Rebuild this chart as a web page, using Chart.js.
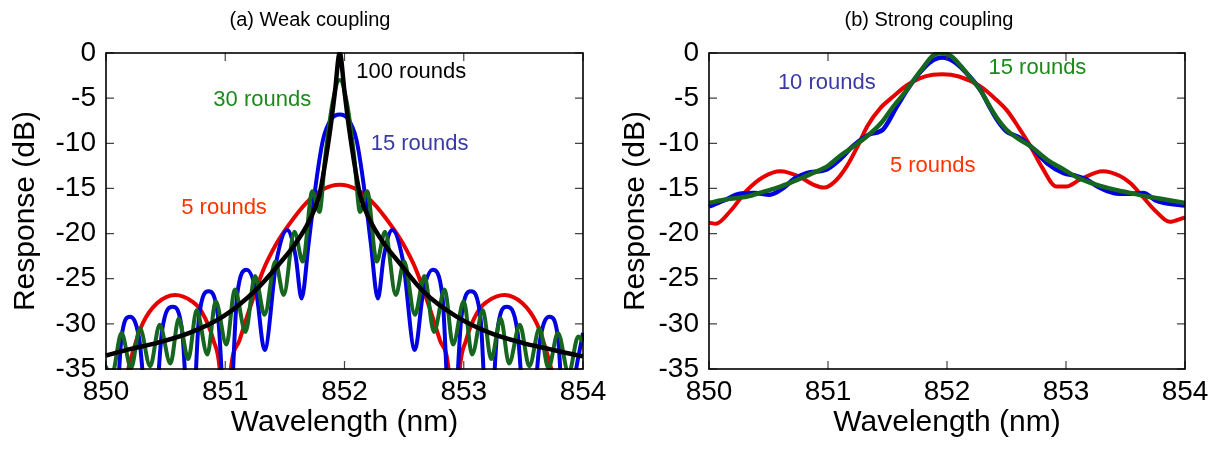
<!DOCTYPE html>
<html>
<head>
<meta charset="utf-8">
<script src="https://cdn.jsdelivr.net/npm/chart.js@4.4.0/dist/chart.umd.min.js"></script>
<style>
html, body { margin: 0; padding: 0; background: #fff; overflow: hidden; width: 1224px; height: 450px; }
.panel { position: absolute; top: 0; height: 450px; }
#wrap-a { left: 0; width: 620px; }
#wrap-b { left: 612px; width: 634px; }
</style>
</head>
<body>
<div class="panel" id="wrap-a"><canvas id="chart-a" width="620" height="450"></canvas></div>
<div class="panel" id="wrap-b"><canvas id="chart-b" width="634" height="450"></canvas></div>
<script>
// ---- (a) weak coupling ----
const redA_x = [849.92, 850.0, 850.08, 850.17, 850.23, 850.31, 850.43, 850.58, 850.72, 850.8, 850.9, 850.96, 851.0, 851.04, 851.12, 851.21, 851.32, 851.43, 851.54, 851.68, 851.82, 851.96,
    852.1, 852.24, 852.38, 852.49, 852.6, 852.71, 852.8, 852.88, 852.92, 852.96, 853.02, 853.12, 853.2, 853.34, 853.49, 853.61, 853.69, 853.75, 853.84, 853.92, 854.0];
const redA_y = [-38, -40, -44, -36, -32.9, -29.9, -27.7, -26.8, -27.5, -28.6, -31.8, -36, -48, -36, -31.8, -28.1, -24.0, -21.1, -18.9, -16.6, -15.1, -14.6,
    -15.1, -16.6, -18.9, -21.1, -24.0, -28.1, -31.8, -36, -48, -36, -31.8, -28.6, -27.5, -26.8, -27.7, -29.9, -32.9, -36, -44, -40, -38];

const blueA_x = [849.92, 850.0, 850.06, 850.13, 850.2, 850.28, 850.38, 850.47, 850.56, 850.64, 850.71, 850.78, 850.86, 850.94, 851.02, 851.1, 851.18, 851.26, 851.33, 851.43, 851.52, 851.59, 851.64, 851.7, 851.76, 851.82, 851.89, 851.96,
    852.03, 852.1, 852.16, 852.22, 852.28, 852.33, 852.4, 852.49, 852.59, 852.66, 852.74, 852.82, 852.9, 852.98, 853.06, 853.14, 853.21, 853.28, 853.36, 853.45, 853.54, 853.64, 853.72, 853.79, 853.86, 853.92, 854.0];
const blueA_y = [-31, -37, -45, -31.5, -29.2, -31.8, -45, -30.8, -28.1, -31, -45, -29.3, -26.4, -29.3, -45, -26.8, -24.0, -26.5, -32.9, -23.0, -19.6, -22.5, -27.2, -21, -14.5, -9.6, -7.3, -6.8,
    -7.3, -9.6, -14.5, -21, -27.2, -22.5, -19.6, -23.0, -32.9, -26.5, -24.0, -26.8, -45, -29.3, -26.4, -29.3, -45, -31, -28.1, -30.8, -45, -31.8, -29.2, -31.5, -45, -37, -31];

const greenA_x = [849.92, 850.0, 850.05, 850.13, 850.21, 850.285, 850.37, 850.45, 850.54, 850.61, 850.69, 850.76, 850.85, 850.92, 851.01, 851.08, 851.17, 851.25, 851.33, 851.42, 851.49, 851.58, 851.65, 851.73, 851.79, 851.84, 851.9, 851.96,
    852.02, 852.08, 852.13, 852.19, 852.27, 852.34, 852.43, 852.5, 852.59, 852.67, 852.75, 852.84, 852.91, 853.0, 853.07, 853.16, 853.23, 853.31, 853.38, 853.47, 853.55, 853.635, 853.71, 853.79, 853.88, 853.96, 854.0];
const greenA_y = [-32, -34.8, -35.6, -31.0, -34.9, -30.5, -34.7, -30.1, -34.4, -29.4, -33.9, -28.5, -33.4, -27.5, -32.3, -26.2, -30.9, -24.7, -29.0, -23.1, -26.8, -19.8, -23.1, -15.3, -17.6, -11.3, -5.5, -3.0,
    -5.5, -11.3, -17.6, -15.3, -23.1, -19.8, -26.8, -23.1, -29.0, -24.7, -30.9, -26.2, -32.3, -27.5, -33.4, -28.5, -33.9, -29.4, -34.4, -30.1, -34.7, -30.5, -34.9, -31.0, -35.5, -31.4, -32];

const blackA_x = [850.0, 850.2, 850.43, 850.7, 850.98, 851.26, 851.45, 851.6, 851.7, 851.79, 851.84, 851.88, 851.92, 851.96,
    852.0, 852.04, 852.08, 852.13, 852.22, 852.32, 852.47, 852.66, 852.94, 853.22, 853.49, 853.72, 853.92, 854.0];
const blackA_y = [-33.5, -32.8, -32.1, -31.0, -29.2, -26.2, -23.4, -20.9, -18.7, -15.7, -12.0, -8.5, -4.3, 0,
    -4.3, -8.5, -12.0, -15.7, -18.7, -20.9, -23.4, -26.4, -29.2, -31.0, -32.1, -32.8, -33.4, -33.6];

// ---- (b) strong coupling ----
const redB_x = [850.0, 850.06, 850.18, 850.32, 850.46, 850.6, 850.76, 850.88, 850.97, 851.06, 851.16, 851.25, 851.33, 851.44, 851.55, 851.66, 851.77, 851.88, 851.96,
    852.1, 852.28, 852.4, 852.5, 852.6, 852.7, 852.8, 852.92, 853.0, 853.12, 853.31, 853.45, 853.54, 853.65, 853.76, 853.87, 854.0];
const redB_y = [-18.8, -18.9, -17.5, -15.2, -13.7, -13.1, -13.7, -14.6, -14.9, -14.2, -12.5, -10.3, -8.1, -6.1, -4.8, -3.6, -2.8, -2.4, -2.35,
    -2.6, -3.7, -5.0, -6.3, -8.2, -10.3, -12.7, -14.8, -14.8, -14.0, -13.1, -13.6, -14.4, -16.0, -17.6, -18.7, -18.2];

const blueB_x = [850.0, 850.15, 850.25, 850.38, 850.51, 850.62, 850.72, 850.82, 850.99, 851.1, 851.21, 851.35, 851.46, 851.58, 851.68, 851.77, 851.86, 851.96,
    852.05, 852.14, 852.28, 852.35, 852.42, 852.5, 852.6, 852.7, 852.84, 852.98, 853.08, 853.17, 853.28, 853.4, 853.52, 853.65, 853.75, 853.82, 854.0];
const blueB_y = [-17.0, -16.2, -15.6, -15.5, -15.7, -15.0, -13.9, -13.3, -12.9, -11.8, -10.3, -9.0, -8.5, -5.9, -3.8, -2.2, -1.0, -0.5,
    -0.9, -1.9, -4.1, -5.8, -7.4, -8.7, -9.3, -10.3, -12.2, -13.3, -13.6, -14.0, -14.9, -15.5, -15.6, -15.5, -16.3, -16.6, -16.9];

const greenB_x = [850.0, 850.15, 850.32, 850.45, 850.6, 850.75, 850.87, 851.0, 851.1, 851.22, 851.33, 851.45, 851.55, 851.65, 851.72, 851.8, 851.88, 851.96,
    852.04, 852.12, 852.2, 852.28, 852.35, 852.42, 852.5, 852.6, 852.7, 852.84, 852.98, 853.1, 853.26, 853.4, 853.54, 853.68, 853.82, 854.0];
const greenB_y = [-16.6, -16.2, -15.9, -15.4, -14.8, -14.0, -13.3, -12.5, -11.4, -10.3, -9.2, -7.7, -5.9, -4.3, -3.0, -1.6, -0.3, 0,
    -0.4, -1.5, -2.8, -4.1, -5.7, -7.2, -8.5, -9.5, -10.3, -11.8, -12.9, -13.8, -14.6, -15.1, -15.5, -15.9, -16.2, -16.6];

// curve labels (text, wavelength, dB)
const labelsA_text = ['100 rounds', '30 rounds', '15 rounds', '5 rounds'];
const labelsA_x = [852.56, 851.31, 852.63, 850.99];
const labelsA_y = [-2.1, -5.2, -10.1, -17.2];
const labelsB_text = ['10 rounds', '15 rounds', '5 rounds'];
const labelsB_x = [850.99, 852.76, 851.88];
const labelsB_y = [-3.3, -1.7, -12.5];

const RED = '#e60000', BLUE = '#0000e0', GREEN = '#16661f', BLACK = '#000000';
const RED_TXT = '#ff3300', BLUE_TXT = '#3a3aa6', GREEN_TXT = '#1a8a1a';
const FONT = '"Liberation Sans", Arial, sans-serif';

Chart.defaults.font.family = FONT;
Chart.defaults.color = '#000';

function toPoints(xs, ys) {
    return xs.map(function (v, i) { return { x: v, y: ys[i] }; });
}

function lineSet(xs, ys, color, width) {
    return {
        data: toPoints(xs, ys),
        borderColor: color,
        borderWidth: width,
        pointRadius: 0,
        fill: false,
        cubicInterpolationMode: 'monotone',
        clip: 1
    };
}

// frame, inward ticks, panel title and curve labels
const boxPlugin = {
    id: 'boxPlugin',
    afterDatasetsDraw(chart, args, opts) {
        const ctx = chart.ctx;
        const a = chart.chartArea;
        const xs = chart.scales.x, ys = chart.scales.y;
        const len = 8;
        ctx.save();
        ctx.strokeStyle = '#444';
        ctx.lineWidth = 1.2;
        ctx.beginPath();
        xs.ticks.forEach(function (t) {
            const px = xs.getPixelForValue(t.value);
            ctx.moveTo(px, a.bottom); ctx.lineTo(px, a.bottom - len);
            ctx.moveTo(px, a.top); ctx.lineTo(px, a.top + len);
        });
        ys.ticks.forEach(function (t) {
            const py = ys.getPixelForValue(t.value);
            ctx.moveTo(a.left, py); ctx.lineTo(a.left + len, py);
            ctx.moveTo(a.right, py); ctx.lineTo(a.right - len, py);
        });
        ctx.stroke();
        ctx.strokeStyle = '#000';
        ctx.lineWidth = 1.6;
        ctx.strokeRect(a.left, a.top, a.right - a.left, a.bottom - a.top);

        ctx.textAlign = 'center';
        ctx.textBaseline = 'middle';
        ctx.fillStyle = '#000';
        ctx.font = '20px ' + FONT;
        ctx.fillText(opts.title, opts.titleX, 20);

        ctx.font = '22px ' + FONT;
        opts.text.forEach(function (txt, i) {
            ctx.fillStyle = opts.colors[i];
            ctx.fillText(txt, xs.getPixelForValue(opts.xs[i]), ys.getPixelForValue(opts.ys[i]));
        });
        ctx.restore();
    }
};

function makeOptions(yWidth, yTitlePad, rightPad, labels) {
    return {
        responsive: false,
        animation: false,
        layout: { padding: { left: 0, right: rightPad, top: 53, bottom: 0 } },
        scales: {
            x: {
                type: 'linear',
                min: 850,
                max: 854,
                ticks: { stepSize: 1, padding: 6, maxRotation: 0, font: { size: 28 } },
                grid: { display: false, drawTicks: false },
                border: { display: false },
                title: { display: true, text: 'Wavelength (nm)', font: { size: 30 }, padding: { top: 0, bottom: 9 } },
                afterFit: function (s) { s.height = 81; }
            },
            y: {
                min: -35,
                max: 0,
                ticks: { stepSize: 5, padding: 10, font: { size: 28 } },
                grid: { display: false, drawTicks: false },
                border: { display: false },
                title: { display: true, text: 'Response (dB)', font: { size: 30 }, padding: { top: yTitlePad, bottom: 0 } },
                afterFit: function (s) { s.width = yWidth; }
            }
        },
        plugins: {
            legend: { display: false },
            tooltip: { enabled: false },
            title: { display: false },
            boxPlugin: labels
        }
    };
}

function drawPanelA() {
    const ctx = document.getElementById('chart-a').getContext('2d');
    return new Chart(ctx, {
        type: 'line',
        data: {
            datasets: [
                lineSet(blackA_x, blackA_y, BLACK, 4.5),
                lineSet(greenA_x, greenA_y, GREEN, 4),
                lineSet(blueA_x, blueA_y, BLUE, 4),
                lineSet(redA_x, redA_y, RED, 4)
            ]
        },
        options: makeOptions(106, 8, 37, {
            title: '(a) Weak coupling', titleX: 310,
            text: labelsA_text, xs: labelsA_x, ys: labelsA_y,
            colors: [BLACK, GREEN_TXT, BLUE_TXT, RED_TXT]
        }),
        plugins: [boxPlugin]
    });
}

function drawPanelB() {
    const ctx = document.getElementById('chart-b').getContext('2d');
    return new Chart(ctx, {
        type: 'line',
        data: {
            datasets: [
                lineSet(greenB_x, greenB_y, GREEN, 4.5),
                lineSet(blueB_x, blueB_y, BLUE, 4.5),
                lineSet(redB_x, redB_y, RED, 4)
            ]
        },
        options: makeOptions(97, 6, 61, {
            title: '(b) Strong coupling', titleX: 317,
            text: labelsB_text, xs: labelsB_x, ys: labelsB_y,
            colors: [BLUE_TXT, GREEN_TXT, RED_TXT]
        }),
        plugins: [boxPlugin]
    });
}

drawPanelA();
drawPanelB();
</script>
</body>
</html>
